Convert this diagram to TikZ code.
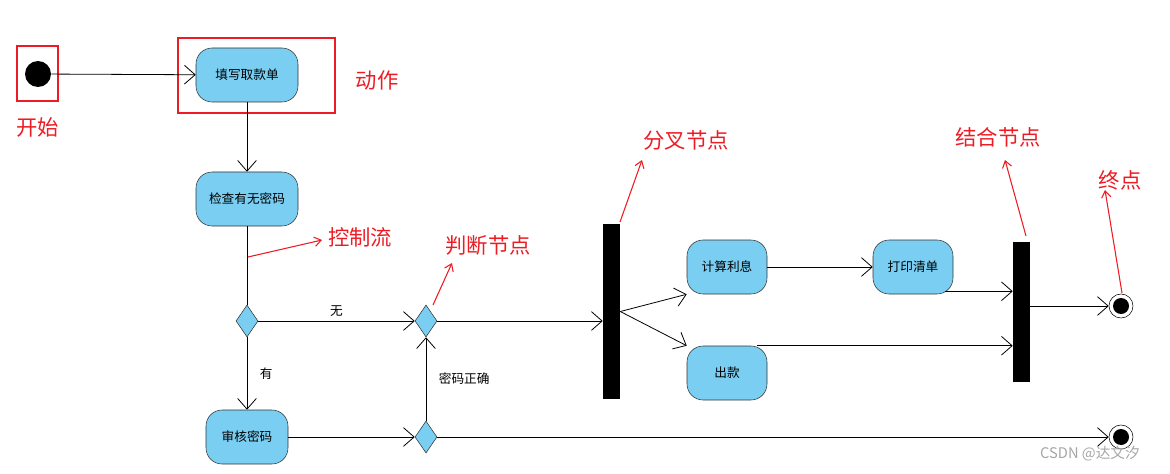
\documentclass[tikz,border=0pt]{standalone}
\usepackage{fontspec}
\setmainfont{Noto Sans CJK SC}
\usetikzlibrary{arrows.meta,shapes.geometric,positioning}
\definecolor{actfill}{RGB}{121,206,242}
\definecolor{notered}{RGB}{237,28,36}
\tikzset{
	act/.style={draw=black!80,fill=actfill,rounded corners=12pt,minimum width=76.5pt,minimum height=40.5pt,font=\fontsize{9.5}{10}\selectfont,inner sep=0pt},
	dec/.style={draw=black!80,fill=actfill,diamond,minimum width=16.5pt,minimum height=24pt,inner sep=0pt},
	bar/.style={fill=black,minimum width=12.75pt,inner sep=0pt},
	flow/.style={-{Straight Barb[length=8pt,width=14pt]},semithick},
	note/.style={text=notered,font=\fontsize{16}{17}\selectfont},
	noteline/.style={-{Straight Barb[length=5pt,width=7pt]},draw=notered,thick},
	redbox/.style={draw=notered,thick}
}
\begin{document}
\begin{tikzpicture}[x=0.75pt,y=-0.75pt]
	\useasboundingbox (0,0) rectangle (1170,474);
	% start
	\node (start) [circle,fill=black,minimum size=19.5pt,inner sep=0pt] at (38,74) {};
	\draw [redbox] (17,46) rectangle (58,101);
	\node [note] at (38,127) {开始};
	% actions
	\node (fill) [act] at (247,75) {填写取款单};
	\draw [redbox] (178,38) rectangle (335,113);
	\node [note] at (377,80) {动作};
	\node (check) [act] at (247,199) {检查有无密码};
	\node (audit) [act,minimum width=61.5pt] at (247,437) {审核密码};
	\node (calc) [act,minimum width=60pt] at (727,267) {计算利息};
	\node (print) [act,minimum width=60pt] at (913,267) {打印清单};
	\node (pay) [act,minimum width=60pt] at (727,373) {出款};
	% decisions
	\node (d1) [dec] at (247,321) {};
	\node (d2) [dec] at (426,321) {};
	\node (d3) [dec] at (426,437) {};
	% bars
	\node (fork) [bar,minimum height=131.25pt] at (611.5,311.5) {};
	\node (join) [bar,minimum height=105pt] at (1021.5,312) {};
	% ends
	\node (end1) [circle,draw,thin,minimum size=18pt,inner sep=0pt] at (1121,306) {};
	\node [circle,fill=black,minimum size=12pt,inner sep=0pt] at (end1) {};
	\node (end2) [circle,draw,thin,minimum size=18pt,inner sep=0pt] at (1121,437) {};
	\node [circle,fill=black,minimum size=12pt,inner sep=0pt] at (end2) {};
	% flows
	\draw [flow] (start) -- (fill);
	\draw [flow] (fill) -- (check);
	\draw [semithick] (check) -- (d1);
	\draw [flow] (d1) -- node [above,font=\fontsize{9.5}{10}\selectfont] {无} (d2);
	\draw [flow] (d1) -- node [right=6pt,font=\fontsize{9.5}{10}\selectfont] {有} (audit);
	\draw [flow] (audit) -- (d3);
	\draw [flow] (d3) -- node [right=6pt,font=\fontsize{9.5}{10}\selectfont] {密码正确} (d2);
	\draw [flow] (d2) -- (d2 -| fork.west);
	\draw [flow] (d3) -- (end2);
	\draw [flow] (fork.east) ++(0,0) coordinate (f0) -- (calc.south west);
	\draw [flow] (f0) -- (pay.north west);
	\draw [flow] (calc) -- (print);
	\draw [flow] (print.south east) ++(-8,-3) coordinate (p0) -- (p0 -| join.west);
	\draw [flow] (pay.north east) ++(-10,0) coordinate (q0) -- (q0 -| join.west);
	\draw [flow] (join.east |- end1) -- (end1);
	% notes
	\node (nctl) [note] at (360,237) {控制流};
	\draw [noteline] (248,257) -- (322,240);
	\node (ndec) [note] at (488,245) {判断节点};
	\draw [noteline] (433,305) -- (452,263);
	\node (nfork) [note] at (686,140) {分叉节点};
	\draw [noteline] (620,222) -- (642,160);
	\node (njoin) [note] at (998,137) {结合节点};
	\draw [noteline] (1026,236) -- (1005,160);
	\node (nend) [note] at (1120,180) {终点};
	\draw [noteline] (1122,293) -- (1105,190);
	\node [text=black!35,font=\fontsize{11}{12}\selectfont] at (1090,454) {CSDN @达文汐};
\end{tikzpicture}
\end{document}
